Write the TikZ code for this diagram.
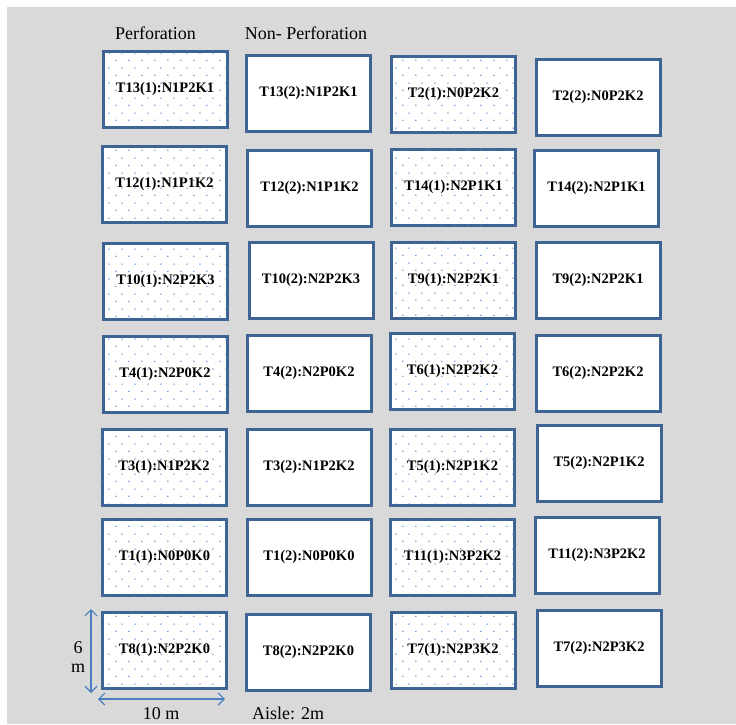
\documentclass[tikz,border=0pt]{standalone}
\usepackage{fontspec}
\setmainfont{Liberation Serif}
\usetikzlibrary{patterns.meta,arrows.meta}
\definecolor{bggray}{HTML}{D9D9D9}
\definecolor{boxblue}{HTML}{3E6494}
\definecolor{dotblue}{HTML}{4F86D2}
\definecolor{arrblue}{HTML}{4A7EC0}
\tikzdeclarepattern{name=perfdots, type=colored,
  bottom left={(0pt,0pt)}, top right={(12.5pt,15pt)}, tile size={(12.5pt,15pt)},
  code={\fill[dotblue] (3pt,4pt) circle (0.8pt); \fill[dotblue] (9.25pt,11.5pt) circle (0.8pt);}}
\tikzset{
  plot/.style={draw=boxblue, line width=3pt, fill=white, minimum width=124pt, minimum height=76pt,
    inner sep=0pt, font=\fontsize{14.5}{16}\selectfont\bfseries},
  perf/.style={plot, postaction={pattern=perfdots}},
  head/.style={font=\fontsize{18}{20}\selectfont, inner sep=0pt},
  dimtxt/.style={font=\fontsize{18}{20}\selectfont, inner sep=0pt},
  dimarrow/.style={draw=arrblue, line width=1.2pt, {Straight Barb[length=6pt,width=12pt]}-{Straight Barb[length=6pt,width=12pt]}}
}
\begin{document}
\begin{tikzpicture}[x=1pt,y=-1pt]
\useasboundingbox (0,0) rectangle (736,724);
\fill[white] (0,0) rectangle (736,724);
\fill[bggray] (7,7) rectangle (736,724);
% headers
\node[head] (hp) at (155.5,33) {Perforation};
\node[head] (hn) at (306,33) {Non- Perforation};
% row 1
\node[perf] (t13a) at (165,89.5) {T13(1):N1P2K1};
\node[plot] (t13b) at (308.5,93.5) {T13(2):N1P2K1};
\node[perf] (t2a) at (453.5,94.5) {T2(1):N0P2K2};
\node[plot] (t2b) at (598,97.5) {T2(2):N0P2K2};
% row 2
\node[perf] (t12a) at (164.5,184.5) {T12(1):N1P1K2};
\node[plot] (t12b) at (309.5,188) {T12(2):N1P1K2};
\node[perf] (t14a) at (453.5,187) {T14(1):N2P1K1};
\node[plot] (t14b) at (596.5,188) {T14(2):N2P1K1};
% row 3
\node[perf] (t10a) at (165.5,281) {T10(1):N2P2K3};
\node[plot] (t10b) at (311,280) {T10(2):N2P2K3};
\node[perf] (t9a) at (453.5,280) {T9(1):N2P2K1};
\node[plot] (t9b) at (598,280) {T9(2):N2P2K1};
% row 4
\node[perf] (t4a) at (165,374.5) {T4(1):N2P0K2};
\node[plot] (t4b) at (309,373) {T4(2):N2P0K2};
\node[perf] (t6a) at (452.5,371) {T6(1):N2P2K2};
\node[plot] (t6b) at (598,373) {T6(2):N2P2K2};
% row 5
\node[perf] (t3a) at (164,467) {T3(1):N1P2K2};
\node[plot] (t3b) at (309,467) {T3(2):N1P2K2};
\node[perf] (t5a) at (452.5,467) {T5(1):N2P1K2};
\node[plot] (t5b) at (599,463.5) {T5(2):N2P1K2};
% row 6
\node[perf] (t1a) at (164.5,557.5) {T1(1):N0P0K0};
\node[plot] (t1b) at (309,557.5) {T1(2):N0P0K0};
\node[perf] (t11a) at (452.5,557.5) {T11(1):N3P2K2};
\node[plot] (t11b) at (597,555.5) {T11(2):N3P2K2};
% row 7
\node[perf] (t8a) at (164.5,650) {T8(1):N2P2K0};
\node[plot] (t8b) at (308.5,652) {T8(2):N2P2K0};
\node[perf] (t7a) at (453,650) {T7(1):N2P3K2};
\node[plot] (t7b) at (599,648) {T7(2):N2P3K2};
% dimensions
\coordinate (vt) at (91,609);
\coordinate (vb) at (91,693);
\coordinate (hl) at (98,699);
\coordinate (hr) at (225,699);
\draw[dimarrow] (vt) -- (vb);
\draw[dimarrow] (hl) -- (hr);
\node[dimtxt] (six) at (78,648) {6};
\node[dimtxt] (mm) at (78,668) {m};
\node[dimtxt] (ten) at (161,714) {10 m};
\node[dimtxt] (aisle) at (288,713) {Aisle: 2m};
\end{tikzpicture}
\end{document}
